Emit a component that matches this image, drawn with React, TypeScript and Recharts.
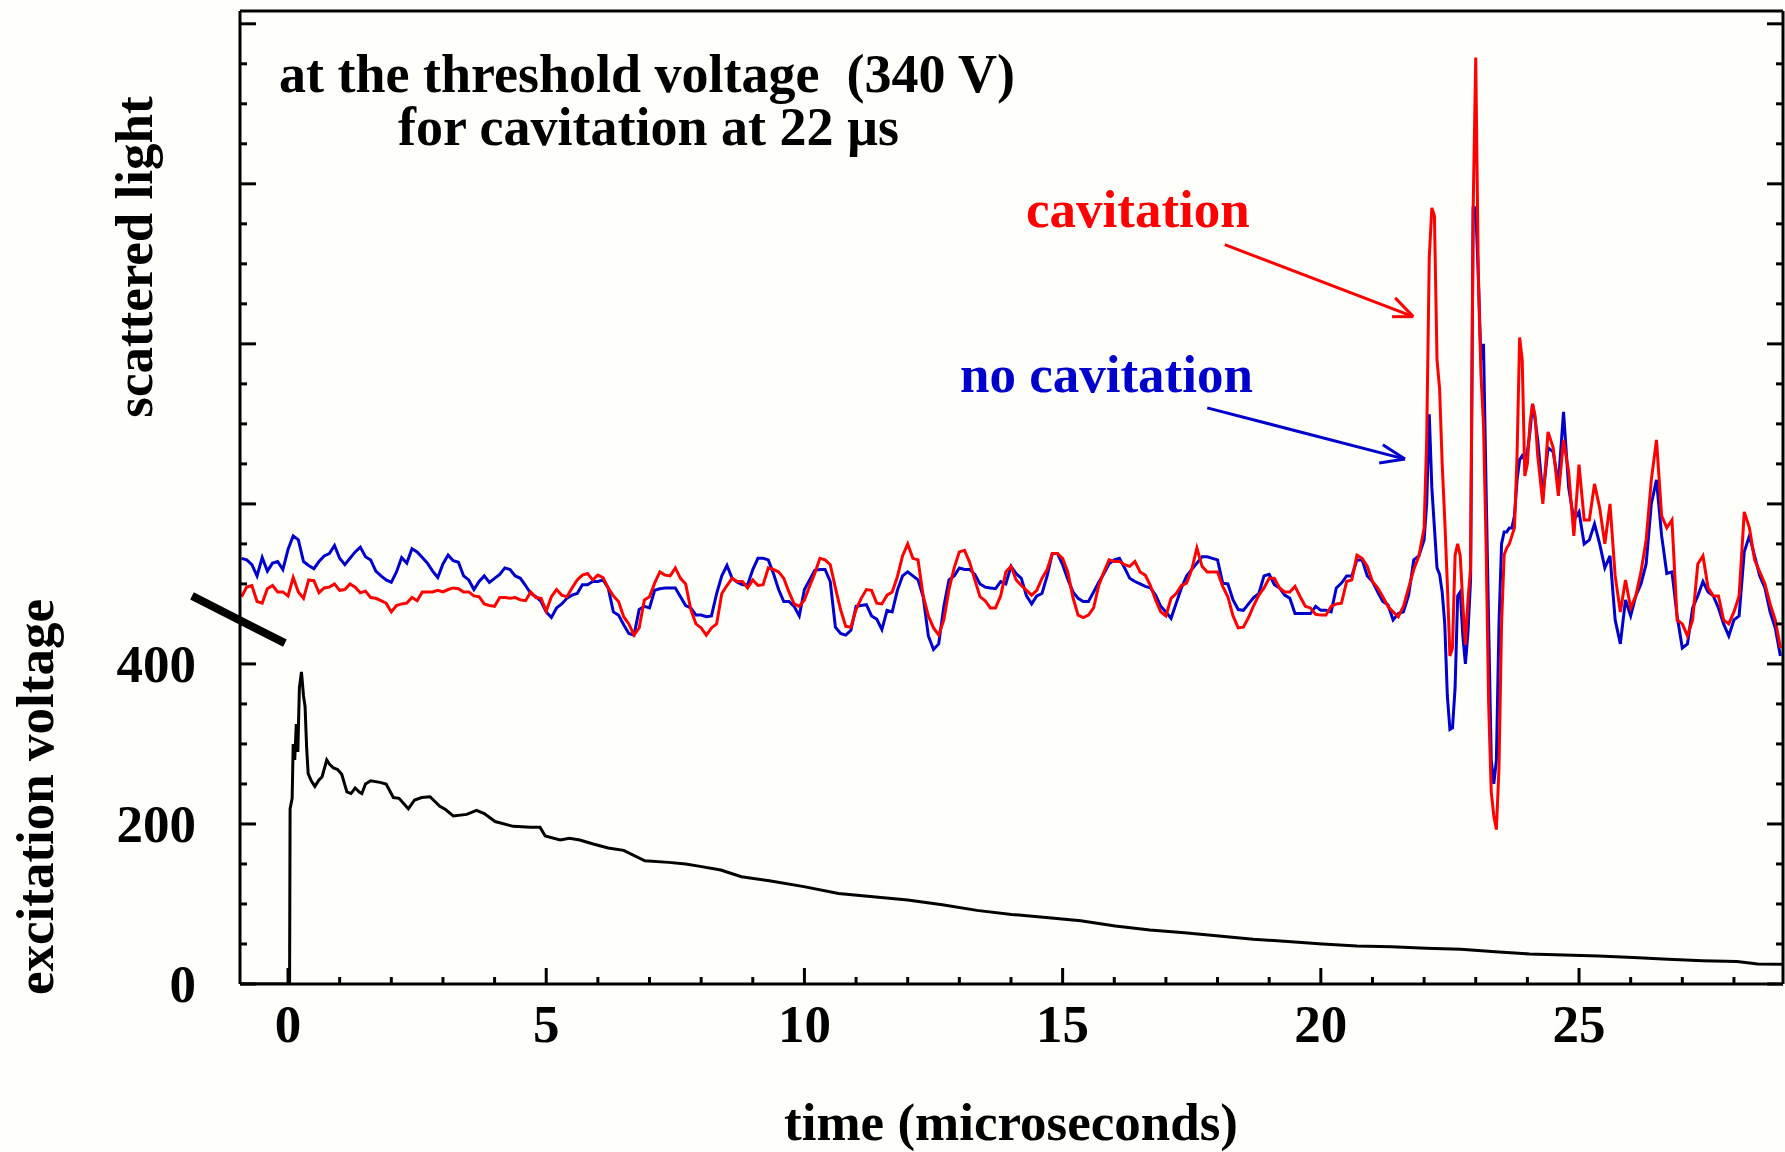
import { Line, LineChart, ReferenceLine, XAxis, YAxis } from "recharts";

const WIDTH = 1785;
const HEIGHT = 1152;
const FONT = '"Liberation Serif", "Times New Roman", serif';
const RED = "#ff0000";
const BLUE = "#0000cc";

// axes
const timeDomain: [number, number] = [-0.93, 28.95];
const voltDomain: [number, number] = [0, 1216];
const lightDomain: [number, number] = [0, 121.6]; // arbitrary units
const timeTicks = [0, 1, 2, 3, 4, 5, 6, 7, 8, 9, 10, 11, 12, 13, 14, 15, 16, 17, 18, 19, 20, 21, 22, 23, 24, 25, 26, 27, 28];
const timeLabels = [0, 5, 10, 15, 20, 25];
const voltTicks = [0, 50, 100, 150, 200, 250, 300, 350, 400, 450, 500, 550, 600, 650, 700, 750, 800, 850, 900, 950, 1000, 1050, 1100, 1150, 1200];
const voltLabels = [0, 200, 400];

// scattered light, sampled every 0.1 us from -0.9 to 21.9
const earlyStart = -0.9;
const earlyStep = 0.1;
const noCavitationEarly = [
  53.2, 53.0, 52.4, 51.0, 53.3, 51.6, 52.6, 52.8, 51.8,
  54.3, 56.0, 55.5, 52.8, 52.3, 51.9, 52.8, 53.5, 53.8, 54.8,
  53.2, 52.4, 53.2, 54.0, 54.6, 53.4, 53.0, 51.6, 51.0, 50.5,
  50.2, 51.5, 53.3, 52.6, 54.4, 54.0, 53.3, 52.6, 51.6, 50.8,
  52.5, 53.6, 52.9, 52.7, 51.0, 50.5, 49.3, 50.3, 51.0, 50.2,
  50.7, 51.2, 52.0, 51.8, 51.0, 50.7, 49.8, 48.8, 48.4, 47.8,
  46.5, 45.8, 47.0, 47.5, 48.2, 48.6, 48.8, 49.9, 49.9, 50.3,
  50.3, 50.5, 49.5, 46.5, 46.1, 44.9, 43.8, 43.6, 46.8, 47.2,
  47.0, 49.2, 49.4, 49.5, 49.5, 49.5, 48.4, 47.3, 47.0, 46.1,
  46.1, 45.9, 46.0, 48.8, 51.0, 52.3, 50.7, 50.2, 49.9, 49.9,
  51.8, 53.2, 53.2, 53.0, 51.3, 49.3, 47.8, 47.8, 47.2, 46.0,
  49.3, 50.5, 51.7, 51.8, 51.8, 50.3, 44.6, 43.8, 43.6, 44.2,
  47.2, 47.3, 47.4, 46.0, 45.6, 44.3, 46.7, 46.5, 49.2, 51.0,
  51.5, 51.0, 50.5, 48.4, 43.5, 41.8, 42.5, 47.2, 50.5, 51.0,
  52.0, 51.8, 51.8, 51.2, 50.0, 49.6, 49.5, 49.4, 50.3, 50.0,
  52.2, 51.3, 50.7, 48.5, 47.5, 48.5, 48.8, 51.0, 53.8, 53.8,
  52.4, 50.6, 49.0, 48.2, 47.8, 47.8, 49.0, 50.2, 51.3, 52.5,
  53.0, 53.2, 52.0, 50.7, 50.3, 50.0, 49.7, 49.5, 48.6, 47.2,
  46.5, 45.7, 47.6, 49.5, 51.0, 51.8, 52.6, 53.4, 53.4, 53.2,
  53.0, 50.1, 50.0, 48.0, 46.8, 46.7, 47.5, 48.3, 48.8, 51.0,
  51.2, 49.9, 49.5, 48.6, 48.2, 46.3, 46.3, 46.3, 46.3, 47.2,
  46.7, 46.7, 46.5, 49.5, 50.1, 51.0, 51.0, 53.0, 53.0, 51.0,
  50.3, 49.0, 47.8, 47.4, 45.5, 46.3, 46.5, 48.6, 53.0, 53.5,
];
const cavitationEarly = [
  48.4, 49.6, 49.8, 47.8, 47.6, 49.4, 49.8, 49.0, 49.0,
  48.5, 50.8, 49.0, 48.2, 50.5, 50.4, 48.9, 49.5, 49.6, 50.0,
  49.2, 49.3, 50.0, 49.6, 48.9, 49.1, 48.3, 48.2, 47.9, 47.6,
  46.5, 47.3, 47.5, 47.6, 48.3, 47.9, 49.0, 49.0, 49.0, 49.2,
  49.0, 49.3, 49.5, 49.4, 49.0, 49.0, 48.5, 48.4, 47.5, 47.3,
  47.2, 48.3, 48.3, 48.2, 48.3, 48.0, 47.9, 49.0, 48.3, 48.2,
  46.6, 48.4, 49.3, 48.6, 48.4, 49.5, 50.5, 51.1, 51.3, 50.5,
  51.1, 50.8, 49.5, 48.5, 47.8, 45.9, 45.0, 43.6, 44.5, 48.0,
  48.4, 50.1, 51.5, 51.1, 51.0, 52.0, 50.7, 50.0, 46.8, 45.0,
  44.5, 43.6, 44.5, 45.0, 48.8, 49.8, 50.7, 50.3, 50.3, 49.5,
  50.5, 49.8, 49.9, 52.0, 51.8, 51.5, 50.7, 49.0, 47.5, 47.2,
  48.0, 49.7, 51.3, 53.2, 53.0, 52.4, 49.5, 46.8, 44.7, 44.6,
  46.8, 48.2, 49.3, 49.2, 47.6, 47.5, 48.6, 49.0, 50.9, 53.5,
  55.0, 53.2, 53.0, 48.5, 46.0, 44.5, 43.6, 45.5, 49.3, 52.0,
  54.0, 54.2, 52.7, 50.5, 48.4, 47.9, 47.0, 47.0, 48.5, 51.5,
  52.2, 50.5, 49.8, 49.2, 48.6, 49.2, 50.7, 51.8, 53.8, 53.8,
  53.2, 51.5, 48.3, 46.1, 45.8, 46.1, 47.0, 49.8, 51.5, 53.0,
  52.8, 52.8, 52.4, 52.2, 52.8, 51.5, 51.1, 49.8, 48.0, 46.5,
  46.0, 48.2, 48.8, 49.8, 50.1, 51.8, 54.5, 52.2, 51.5, 51.5,
  51.5, 49.7, 48.4, 46.0, 44.5, 44.6, 45.8, 47.3, 48.6, 49.5,
  50.7, 50.7, 49.5, 49.0, 49.0, 49.7, 48.4, 47.2, 47.0, 46.2,
  46.1, 46.1, 47.2, 47.5, 47.6, 50.3, 50.5, 53.6, 53.2, 52.2,
  50.3, 49.5, 48.4, 47.2, 46.5, 45.9, 47.2, 49.5, 51.8, 53.5,
];

// the burst, sampled every 0.05 us from 22.0 to 24.2
const burstStart = 22.0;
const burstStep = 0.05;
const noCavitationBurst = [
  55.5, 60, 71.2, 62, 57, 52, 51.2, 49, 45, 36,
  31.8, 32, 37, 48.5, 49, 43.5, 40, 44, 50.5, 97,
  97, 88.5, 78, 80, 62, 45, 28, 25, 28, 45,
  55, 56.5, 56.5, 57, 57, 58.5, 63, 65.5, 66, 65.5,
  66.5, 69, 72.5, 70.5, 68,
];
const cavitationBurst = [
  57, 68, 90.8, 97, 96, 78, 74.4, 65, 58, 50,
  41, 42, 53.6, 55, 53.5, 47.5, 42.4, 48, 52, 96.8,
  115.8, 88.5, 76.3, 70, 55, 35, 24, 21, 19.3, 27,
  45, 53.6, 54.5, 55, 56, 57, 66, 80.8, 78, 63.5,
  65, 70, 72.5, 71, 66,
];

// after the burst, every 0.1 us from 24.3 to 28.9
const lateStart = 24.3;
const lateStep = 0.1;
const noCavitationLate = [
  61, 67, 66.5, 62.5, 71.5, 62, 58,
  59, 55, 55.5, 57.5, 55, 52, 53.5, 45.5, 42.5, 48,
  46, 48.5, 50, 52.5, 60, 63, 56, 51.3, 51.5, 46,
  42, 42.5, 47, 48.5, 50.3, 49, 48.5, 47, 45, 43.5,
  45.5, 46, 54, 56, 53.5, 51, 49.5, 46.5, 44.5, 41,
];
const cavitationLate = [
  60, 69, 67, 61, 68, 64, 56,
  64.9, 58, 58, 62.5, 59.5, 55, 60, 51, 46.5, 50.5,
  47, 48.5, 51.5, 55.5, 63, 68, 58.5, 57, 58, 45.5,
  45, 43.5, 45.5, 52.5, 53.5, 49.5, 48.5, 48.5, 45.5, 45,
  46.5, 48.5, 59, 57, 53, 51.5, 50, 47.5, 45.5, 42,
];

// excitation voltage (V)
const voltageTimes = [
  -0.93, 0.03, 0.04, 0.08, 0.1, 0.13, 0.16, 0.19, 0.22, 0.26, 0.3, 0.33, 0.36, 0.39, 0.45, 0.52,
  0.6, 0.66, 0.75, 0.8, 0.88, 0.96, 1.04, 1.14, 1.22, 1.3, 1.38, 1.43, 1.5, 1.6, 1.78, 1.9,
  2.04, 2.15, 2.33, 2.45, 2.59, 2.75, 2.94, 3.05, 3.2, 3.46, 3.65, 3.8, 4.01, 4.36, 4.7, 4.88,
  4.98, 5.27, 5.45, 5.65, 5.91, 6.2, 6.5, 6.91, 7.37, 7.7, 7.98, 8.38, 8.78, 9.32, 9.99, 10.66,
  11.33, 12.0, 12.67, 13.34, 14.01, 14.68, 15.35, 16.02, 16.69, 17.36, 18.03, 18.69, 19.36, 20.03, 20.7, 21.37,
  22.04, 22.71, 23.38, 24.04, 24.71, 25.38, 26.05, 26.72, 27.39, 28.06, 28.46, 28.95,
];
const voltage = [
  0, 0, 219, 232, 300, 280, 325, 290, 370, 390, 360, 347, 296, 263, 254, 247,
  255, 259, 280, 275, 270, 268, 262, 240, 238, 245, 240, 238, 250, 254, 252, 250,
  233, 232, 219, 230, 233, 234, 222, 218, 210, 212, 217, 213, 203, 197, 196, 196,
  185, 180, 182, 180, 175, 170, 167, 154, 152, 150, 147, 142.5, 134, 129, 121.7, 113,
  109, 105, 99, 92, 87, 83, 79, 72.5, 67.5, 64, 60, 56, 53, 50, 47.5, 46.7,
  44.6, 43.3, 40.4, 37.5, 36.3, 35, 33, 31, 29.2, 28, 25, 24.6,
];

type LightRow = { t: number; noCav: number; cav: number };

function sampled(start: number, step: number, noCav: number[], cav: number[]): LightRow[] {
  return noCav.map((v, i) => ({
    t: Math.round((start + i * step) * 100) / 100,
    noCav: v,
    cav: cav[i],
  }));
}

const lightRows: LightRow[] = [
  ...sampled(earlyStart, earlyStep, noCavitationEarly, cavitationEarly),
  ...sampled(burstStart, burstStep, noCavitationBurst, cavitationBurst),
  ...sampled(lateStart, lateStep, noCavitationLate, cavitationLate),
];
const voltageRows = voltageTimes.map((t, i) => ({ t, v: voltage[i] }));

const textStyle = { fontFamily: FONT, fontWeight: 700, fontSize: 53 } as const;

// bottom axis: tick props give the spot just below the axis line
function TimeTick(props: any) {
  const { x, y, payload } = props;
  const axisY = y - 1;
  const major = timeLabels.includes(payload.value);
  return (
    <g>
      <line x1={x} x2={x} y1={axisY} y2={axisY - (major ? 16 : 7)} stroke="#000" strokeWidth={3} />
      {major && (
        <text x={x} y={axisY + 58} textAnchor="middle" fill="#000" style={textStyle}>
          {payload.value}
        </text>
      )}
    </g>
  );
}

function VoltTick(props: any) {
  const { x, y, payload } = props;
  const axisX = x + 1;
  const major = payload.value % 200 === 0;
  return (
    <g>
      <line x1={axisX} x2={axisX + (major ? 16 : 7)} y1={y} y2={y} stroke="#000" strokeWidth={3} />
      {voltLabels.includes(payload.value) && (
        <text x={axisX - 44} y={y + 18} textAnchor="end" fill="#000" style={textStyle}>
          {payload.value}
        </text>
      )}
    </g>
  );
}

function RightTick(props: any) {
  const { x, y, payload } = props;
  const axisX = x - 1;
  const major = payload.value % 200 === 0;
  return <line x1={axisX} x2={axisX - (major ? 16 : 7)} y1={y} y2={y} stroke="#000" strokeWidth={3} />;
}

const frame = { stroke: "#000", strokeWidth: 3 };

export default function App() {
  return (
    <div
      style={{
        position: "absolute",
        left: 0,
        top: 0,
        width: WIDTH,
        height: HEIGHT,
        background: "#fefefa",
        overflow: "hidden",
      }}
    >
      <LineChart
        width={WIDTH}
        height={HEIGHT}
        data={lightRows}
        margin={{ top: 1, right: 1, bottom: 138, left: 180 }}
      >
        <XAxis
          xAxisId="time"
          dataKey="t"
          type="number"
          domain={timeDomain}
          ticks={timeTicks}
          interval={0}
          height={30}
          tickSize={1}
          tickMargin={0}
          tickLine={false}
          axisLine={frame}
          tick={TimeTick}
          allowDataOverflow
        />
        <XAxis
          xAxisId="top"
          orientation="top"
          type="number"
          domain={timeDomain}
          height={10}
          tick={false}
          tickLine={false}
          axisLine={frame}
          allowDataOverflow
        />
        <YAxis
          yAxisId="volt"
          type="number"
          domain={voltDomain}
          ticks={voltTicks}
          interval={0}
          width={60}
          tickSize={1}
          tickMargin={0}
          tickLine={false}
          axisLine={frame}
          tick={VoltTick}
          allowDataOverflow
        />
        <YAxis
          yAxisId="voltRight"
          orientation="right"
          type="number"
          domain={voltDomain}
          ticks={voltTicks}
          interval={0}
          width={1}
          tickSize={1}
          tickMargin={0}
          tickLine={false}
          axisLine={frame}
          tick={RightTick}
          allowDataOverflow
        />
        <YAxis
          yAxisId="light"
          orientation="right"
          type="number"
          domain={lightDomain}
          width={0}
          hide
          allowDataOverflow
        />

        <Line
          xAxisId="time"
          yAxisId="light"
          type="linear"
          dataKey="noCav"
          stroke={BLUE}
          strokeWidth={3}
          dot={false}
          isAnimationActive={false}
        />
        <Line
          xAxisId="time"
          yAxisId="light"
          type="linear"
          dataKey="cav"
          stroke={RED}
          strokeWidth={3}
          dot={false}
          isAnimationActive={false}
        />
        <Line
          xAxisId="time"
          yAxisId="volt"
          type="linear"
          data={voltageRows}
          dataKey="v"
          stroke="#000"
          strokeWidth={3}
          dot={false}
          isAnimationActive={false}
        />

        {/* scale break between the two traces */}
        <ReferenceLine
          xAxisId="time"
          yAxisId="volt"
          segment={[{ x: -1.86, y: 485 }, { x: -0.06, y: 426 }]}
          stroke="#000"
          strokeWidth={8}
          ifOverflow="visible"
        />

        {/* arrows */}
        <ReferenceLine xAxisId="time" yAxisId="light" segment={[{ x: 18.14, y: 92.4 }, { x: 21.79, y: 83.4 }]} stroke={RED} strokeWidth={3} ifOverflow="visible" />
        <ReferenceLine xAxisId="time" yAxisId="light" segment={[{ x: 21.79, y: 83.4 }, { x: 21.44, y: 85.75 }]} stroke={RED} strokeWidth={3} ifOverflow="visible" />
        <ReferenceLine xAxisId="time" yAxisId="light" segment={[{ x: 21.79, y: 83.4 }, { x: 21.38, y: 83.4 }]} stroke={RED} strokeWidth={3} ifOverflow="visible" />
        <ReferenceLine xAxisId="time" yAxisId="light" segment={[{ x: 17.8, y: 72.0 }, { x: 21.63, y: 65.6 }]} stroke={BLUE} strokeWidth={3} ifOverflow="visible" />
        <ReferenceLine xAxisId="time" yAxisId="light" segment={[{ x: 21.63, y: 65.6 }, { x: 21.2, y: 67.4 }]} stroke={BLUE} strokeWidth={3} ifOverflow="visible" />
        <ReferenceLine xAxisId="time" yAxisId="light" segment={[{ x: 21.63, y: 65.6 }, { x: 21.13, y: 65.1 }]} stroke={BLUE} strokeWidth={3} ifOverflow="visible" />
      </LineChart>

      <svg
        width={WIDTH}
        height={HEIGHT}
        style={{ position: "absolute", left: 0, top: 0, pointerEvents: "none" }}
      >
        <g style={textStyle} fill="#000">
          <text x={279} y={92} style={{ fontSize: 54 }}>
            at the threshold voltage{"\u00a0\u00a0"}(340 V)
          </text>
          <text x={398} y={145} style={{ fontSize: 54 }}>
            for cavitation at 22 µs
          </text>
          <text transform="translate(152,257) rotate(-90)" textAnchor="middle">
            scattered light
          </text>
          <text transform="translate(53,797) rotate(-90)" textAnchor="middle">
            excitation voltage
          </text>
          <text x={1011} y={1140} textAnchor="middle">
            time (microseconds)
          </text>
          <text x={1026} y={227} fill={RED}>
            cavitation
          </text>
          <text x={960} y={392} fill={BLUE}>
            no cavitation
          </text>
        </g>
      </svg>
    </div>
  );
}
